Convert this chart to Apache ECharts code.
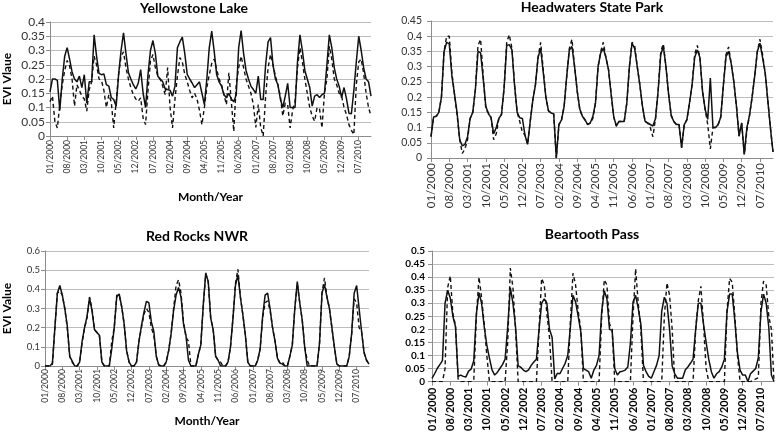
<!DOCTYPE html>
<html>
<head>
<meta charset="utf-8">
<script src="https://cdn.jsdelivr.net/npm/echarts@6/dist/echarts.min.js"></script>
<style>
  html, body { margin: 0; padding: 0; background: #fff; }
  #chart { width: 777px; height: 434px; }
</style>
</head>
<body>
<div id="chart"></div>
<script>
// monthly categories, 01/2000 .. 12/2010
const years = [2000, 2001, 2002, 2003, 2004, 2005, 2006, 2007, 2008, 2009, 2010];
const monthNames = ["01", "02", "03", "04", "05", "06", "07", "08", "09", "10", "11", "12"];
const months = [];
years.forEach((y) => monthNames.forEach((m) => months.push(m + "/" + y)));

// EVI values, one row per year
const yellowstoneSolid = [
  0.155, 0.2, 0.2, 0.195, 0.09, 0.2, 0.28, 0.31, 0.27, 0.225, 0.2, 0.19,
  0.21, 0.17, 0.215, 0.115, 0.19, 0.19, 0.355, 0.28, 0.22, 0.215, 0.218, 0.18,
  0.175, 0.135, 0.128, 0.104, 0.216, 0.3, 0.362, 0.29, 0.222, 0.2, 0.18, 0.165,
  0.185, 0.233, 0.15, 0.1, 0.216, 0.3, 0.335, 0.29, 0.21, 0.2, 0.19, 0.165,
  0.163, 0.16, 0.14, 0.175, 0.31, 0.33, 0.347, 0.29, 0.216, 0.2, 0.186, 0.17,
  0.18, 0.19, 0.15, 0.11, 0.2, 0.31, 0.368, 0.298, 0.216, 0.19, 0.175, 0.145,
  0.134, 0.15, 0.13, 0.12, 0.145, 0.31, 0.37, 0.29, 0.23, 0.2, 0.175, 0.163,
  0.15, 0.21, 0.128, 0.128, 0.25, 0.33, 0.345, 0.25, 0.2, 0.18, 0.13, 0.1,
  0.14, 0.185, 0.1, 0.1, 0.1, 0.26, 0.355, 0.3, 0.23, 0.2, 0.17, 0.105,
  0.14, 0.145, 0.135, 0.145, 0.15, 0.25, 0.355, 0.31, 0.24, 0.2, 0.175, 0.135,
  0.17, 0.13, 0.08, 0.078, 0.16, 0.26, 0.35, 0.3, 0.24, 0.2, 0.19, 0.14
];
const yellowstoneDashed = [
  0.12, 0.14, 0.05, 0.028, 0.11, 0.18, 0.23, 0.265, 0.245, 0.2, 0.105, 0.18,
  0.16, 0.14, 0.13, 0.087, 0.163, 0.19, 0.28, 0.25, 0.2, 0.195, 0.16, 0.1,
  0.145, 0.12, 0.028, 0.12, 0.216, 0.28, 0.295, 0.24, 0.2, 0.17, 0.145, 0.13,
  0.122, 0.134, 0.063, 0.04, 0.16, 0.263, 0.286, 0.24, 0.21, 0.198, 0.175, 0.145,
  0.24, 0.1, 0.028, 0.13, 0.21, 0.275, 0.26, 0.216, 0.19, 0.16, 0.134, 0.15,
  0.13, 0.09, 0.04, 0.1, 0.17, 0.215, 0.255, 0.27, 0.235, 0.2, 0.18, 0.145,
  0.11, 0.222, 0.12, 0.016, 0.18, 0.24, 0.28, 0.24, 0.2, 0.175, 0.15, 0.11,
  0.03, 0.11, 0.03, 0.0, 0.14, 0.24, 0.286, 0.25, 0.21, 0.18, 0.14, 0.07,
  0.115, 0.11, 0.028, 0.09, 0.122, 0.24, 0.31, 0.26, 0.2, 0.15, 0.1, 0.07,
  0.052, 0.1, 0.095, 0.028, 0.15, 0.2, 0.315, 0.27, 0.2, 0.18, 0.15, 0.14,
  0.1, 0.075, 0.04, 0.02, 0.005, 0.18, 0.26, 0.27, 0.22, 0.15, 0.1, 0.07
];
const headwatersSolid = [
  0.07, 0.135, 0.137, 0.15, 0.2, 0.35, 0.38, 0.375, 0.27, 0.21, 0.148, 0.06,
  0.04, 0.045, 0.07, 0.13, 0.15, 0.225, 0.35, 0.345, 0.26, 0.17, 0.145, 0.133,
  0.08, 0.1, 0.13, 0.143, 0.23, 0.37, 0.372, 0.355, 0.24, 0.15, 0.132, 0.13,
  0.075, 0.045, 0.12, 0.19, 0.24, 0.33, 0.36, 0.28, 0.2, 0.155, 0.148, 0.145,
  0.0, 0.11, 0.125, 0.17, 0.27, 0.355, 0.366, 0.3, 0.22, 0.16, 0.137, 0.125,
  0.11, 0.115, 0.137, 0.18, 0.3, 0.345, 0.36, 0.33, 0.29, 0.21, 0.135, 0.105,
  0.12, 0.12, 0.12, 0.18, 0.3, 0.377, 0.36, 0.3, 0.24, 0.17, 0.12, 0.115,
  0.11, 0.105, 0.13, 0.22, 0.34, 0.366, 0.3, 0.21, 0.14, 0.12, 0.11, 0.11,
  0.034, 0.11, 0.125, 0.18, 0.24, 0.33, 0.355, 0.33, 0.22, 0.16, 0.127, 0.263,
  0.1, 0.1, 0.11, 0.135, 0.24, 0.333, 0.35, 0.31, 0.25, 0.17, 0.072, 0.115,
  0.012, 0.1, 0.14, 0.2, 0.27, 0.35, 0.377, 0.33, 0.28, 0.19, 0.1, 0.02
];
const headwatersDashed = [
  0.07, 0.135, 0.137, 0.15, 0.2, 0.35, 0.4, 0.4, 0.28, 0.21, 0.14, 0.06,
  0.015, 0.03, 0.06, 0.13, 0.15, 0.225, 0.37, 0.39, 0.27, 0.16, 0.148, 0.133,
  0.06, 0.08, 0.13, 0.143, 0.23, 0.38, 0.405, 0.36, 0.24, 0.15, 0.12, 0.085,
  0.075, 0.045, 0.12, 0.19, 0.24, 0.33, 0.38, 0.29, 0.2, 0.155, 0.148, 0.145,
  0.0, 0.11, 0.125, 0.17, 0.27, 0.36, 0.39, 0.3, 0.22, 0.16, 0.137, 0.125,
  0.11, 0.115, 0.13, 0.18, 0.3, 0.35, 0.38, 0.33, 0.29, 0.21, 0.135, 0.105,
  0.12, 0.12, 0.12, 0.18, 0.3, 0.38, 0.37, 0.3, 0.24, 0.17, 0.12, 0.115,
  0.1, 0.07, 0.13, 0.22, 0.35, 0.375, 0.3, 0.21, 0.14, 0.12, 0.11, 0.11,
  0.034, 0.11, 0.125, 0.18, 0.24, 0.34, 0.37, 0.33, 0.22, 0.16, 0.11, 0.03,
  0.1, 0.1, 0.11, 0.135, 0.24, 0.34, 0.365, 0.31, 0.25, 0.17, 0.072, 0.115,
  0.012, 0.09, 0.14, 0.2, 0.27, 0.35, 0.39, 0.34, 0.28, 0.19, 0.1, 0.02
];
const redRocksSolid = [
  0, 0, 0, 0.015, 0.2, 0.38, 0.42, 0.37, 0.3, 0.21, 0.05, 0.025,
  0, 0, 0.02, 0.128, 0.2, 0.26, 0.355, 0.29, 0.19, 0.175, 0.16, 0.02,
  0, 0, 0, 0.09, 0.2, 0.36, 0.376, 0.31, 0.22, 0.08, 0.02, 0,
  0, 0.02, 0.13, 0.21, 0.28, 0.337, 0.33, 0.23, 0.18, 0.05, 0.005, 0,
  0, 0.02, 0.08, 0.17, 0.29, 0.37, 0.41, 0.36, 0.22, 0.16, 0.03, 0,
  0, 0, 0.06, 0.11, 0.32, 0.486, 0.44, 0.25, 0.19, 0.05, 0.03, 0,
  0, 0, 0.02, 0.1, 0.25, 0.42, 0.477, 0.36, 0.267, 0.163, 0.02, 0,
  0, 0, 0.03, 0.09, 0.26, 0.37, 0.38, 0.3, 0.2, 0.13, 0.04, 0.015,
  0.01, 0, 0, 0.05, 0.11, 0.3, 0.44, 0.33, 0.24, 0.1, 0, 0,
  0, 0, 0, 0.12, 0.38, 0.425, 0.36, 0.3, 0.2, 0.1, 0.01, 0,
  0, 0, 0, 0.05, 0.17, 0.38, 0.42, 0.3, 0.18, 0.07, 0.03, 0.01
];
const redRocksDashed = [
  0, 0, 0, 0.01, 0.2, 0.38, 0.39, 0.37, 0.3, 0.2, 0.05, 0.02,
  0, 0, 0.02, 0.12, 0.2, 0.25, 0.36, 0.3, 0.19, 0.175, 0.16, 0.02,
  0, 0, 0, 0.13, 0.2, 0.37, 0.37, 0.31, 0.22, 0.08, 0.02, 0,
  0, 0.02, 0.13, 0.2, 0.27, 0.3, 0.28, 0.2, 0.16, 0.05, 0.005, 0,
  0, 0.02, 0.08, 0.17, 0.3, 0.42, 0.45, 0.38, 0.23, 0.15, 0.13, 0,
  0, 0, 0.06, 0.11, 0.32, 0.48, 0.44, 0.25, 0.19, 0.05, 0.03, 0.02,
  0, 0, 0.02, 0.1, 0.25, 0.43, 0.505, 0.36, 0.267, 0.163, 0.02, 0,
  0, 0, 0.03, 0.09, 0.25, 0.33, 0.34, 0.29, 0.2, 0.13, 0.04, 0.015,
  0.02, 0, 0, 0.05, 0.11, 0.3, 0.43, 0.33, 0.24, 0.1, 0.03, 0,
  0, 0, 0, 0.12, 0.38, 0.46, 0.36, 0.3, 0.2, 0.1, 0.01, 0,
  0, 0, 0, 0.05, 0.17, 0.35, 0.33, 0.2, 0.18, 0.07, 0.03, 0.01
];
const beartoothSolid = [
  0.012, 0.03, 0.05, 0.065, 0.08, 0.3, 0.35, 0.32, 0.25, 0.21, 0.02, 0.025,
  0.02, 0.018, 0.04, 0.048, 0.08, 0.26, 0.34, 0.3, 0.21, 0.14, 0.09, 0.045,
  0.025, 0.035, 0.05, 0.065, 0.086, 0.21, 0.36, 0.3, 0.21, 0.06, 0.055, 0.044,
  0.038, 0.045, 0.062, 0.075, 0.086, 0.2, 0.3, 0.317, 0.3, 0.2, 0.17, 0.01,
  0.032, 0.03, 0.05, 0.07, 0.1, 0.208, 0.33, 0.305, 0.25, 0.19, 0.05, 0.044,
  0.038, 0.013, 0.044, 0.062, 0.1, 0.27, 0.347, 0.317, 0.2, 0.196, 0.05, 0.025,
  0.038, 0.04, 0.044, 0.056, 0.147, 0.305, 0.33, 0.28, 0.22, 0.062, 0.038, 0.02,
  0.013, 0.038, 0.062, 0.1, 0.27, 0.323, 0.3, 0.2, 0.06, 0.03, 0.013, 0.013,
  0.013, 0.044, 0.056, 0.07, 0.086, 0.2, 0.3, 0.3, 0.22, 0.15, 0.086, 0.038,
  0.013, 0.03, 0.038, 0.056, 0.086, 0.268, 0.335, 0.335, 0.232, 0.11, 0.044, 0.025,
  0.025, 0.0, 0.03, 0.04, 0.05, 0.092, 0.268, 0.335, 0.3, 0.208, 0.025, 0.0
];
const beartoothDashed = [
  0, 0, 0, 0, 0, 0.05, 0.36, 0.405, 0.26, 0.215, 0.01, 0,
  0, 0, 0, 0, 0.005, 0.25, 0.4, 0.32, 0.22, 0.1, 0, 0,
  0, 0, 0, 0, 0, 0.15, 0.435, 0.36, 0.2, 0, 0, 0,
  0, 0, 0, 0, 0, 0.2, 0.395, 0.37, 0.26, 0.17, 0, 0,
  0, 0, 0, 0, 0, 0.23, 0.415, 0.37, 0.27, 0.2, 0, 0,
  0, 0, 0, 0, 0, 0.25, 0.39, 0.37, 0.22, 0.2, 0, 0,
  0, 0, 0, 0, 0, 0.25, 0.432, 0.3, 0.2, 0, 0, 0,
  0, 0, 0, 0, 0, 0.25, 0.378, 0.33, 0.2, 0, 0, 0,
  0, 0, 0, 0, 0, 0.2, 0.31, 0.365, 0.22, 0.05, 0, 0,
  0, 0, 0, 0, 0, 0.27, 0.395, 0.38, 0.25, 0.1, 0, 0,
  0, 0, 0, 0.005, 0.01, 0.015, 0.3, 0.385, 0.37, 0.25, 0.2, 0
];

const FONT = "Lato, 'Open Sans', sans-serif";

// one entry per small chart
const panels = [
  {
    title: "Yellowstone Lake", titleX: 194, titleY: 1,
    grid: { left: 50, top: 22, width: 321, height: 114 },
    yMax: 0.4, yStep: 0.05, yLabelSize: 12, xLabelSize: 8.5, bold: false,
    yName: "EVI Vlaue", yNameGap: 37, xName: "Month/Year", xNameGap: 55,
    yMargin: 5, xMargin: 4, solid: yellowstoneSolid, dashed: yellowstoneDashed,
  },
  {
    title: "Headwaters State Park", titleX: 592, titleY: 0,
    grid: { left: 431, top: 21, width: 342, height: 137 },
    yMax: 0.45, yStep: 0.05, yLabelSize: 10.5, xLabelSize: 11.5, bold: false,
    yName: "", yNameGap: 0, xName: "", xNameGap: 0,
    yMargin: 9, xMargin: 5, solid: headwatersSolid, dashed: headwatersDashed,
  },
  {
    title: "Red Rocks NWR", titleX: 197, titleY: 229,
    grid: { left: 45, top: 251, width: 324, height: 115 },
    yMax: 0.6, yStep: 0.1, yLabelSize: 9.5, xLabelSize: 8.6, bold: false,
    yName: "EVI Value", yNameGap: 32, xName: "Month/Year", xNameGap: 49,
    yMargin: 5, xMargin: 3, solid: redRocksSolid, dashed: redRocksDashed,
  },
  {
    title: "Beartooth Pass", titleX: 592, titleY: 227,
    grid: { left: 432, top: 251, width: 342, height: 137 },
    yMax: 0.5, yStep: 0.05, yLabelSize: 10, xLabelSize: 11, bold: true,
    yName: "", yNameGap: 0, xName: "", xNameGap: 0,
    yMargin: 7, xMargin: 6, solid: beartoothSolid, dashed: beartoothDashed,
  },
];

const axisColor = "#8c8c8c";

const option = {
  animation: false,
  backgroundColor: "#fff",
  title: panels.map((p) => ({
    text: p.title,
    left: p.titleX,
    top: p.titleY,
    textAlign: "center",
    padding: 0,
    textStyle: { fontFamily: FONT, fontSize: 14, fontWeight: "bold", color: "#000" },
  })),
  grid: panels.map((p) => Object.assign({ containLabel: false }, p.grid)),
  xAxis: panels.map((p, i) => ({
    type: "category",
    gridIndex: i,
    data: months,
    boundaryGap: false,
    name: p.xName,
    nameLocation: "middle",
    nameGap: p.xNameGap,
    nameTextStyle: { fontFamily: FONT, fontSize: 12, fontWeight: "bold", color: "#000" },
    axisLine: { lineStyle: { color: axisColor, width: 1 } },
    axisTick: { show: true, interval: 6, length: 4, lineStyle: { color: axisColor } },
    axisLabel: {
      interval: 6,
      rotate: 90,
      margin: p.xMargin,
      fontFamily: FONT,
      fontSize: p.xLabelSize,
      fontWeight: p.bold ? "bold" : "normal",
      color: p.bold ? "#000" : "#333",
    },
    splitLine: { show: false },
  })),
  yAxis: panels.map((p, i) => ({
    type: "value",
    gridIndex: i,
    min: 0,
    max: p.yMax,
    interval: p.yStep,
    name: p.yName,
    nameLocation: "middle",
    nameGap: p.yNameGap,
    nameTextStyle: { fontFamily: FONT, fontSize: 12, fontWeight: "bold", color: "#000" },
    axisLine: { show: true, lineStyle: { color: axisColor, width: 1 } },
    axisTick: { show: true, length: 4, lineStyle: { color: axisColor } },
    axisLabel: {
      margin: p.yMargin,
      fontFamily: FONT,
      fontSize: p.yLabelSize,
      fontWeight: p.bold ? "bold" : "normal",
      color: p.bold ? "#000" : "#333",
    },
    splitLine: { show: true, lineStyle: { color: "#bdbdbd", width: 1 } },
  })),
  series: panels.flatMap((p, i) => [
    {
      type: "line",
      xAxisIndex: i,
      yAxisIndex: i,
      data: p.dashed,
      symbol: "none",
      lineStyle: { color: "#111", width: 1.4, type: [4, 3] },
    },
    {
      type: "line",
      xAxisIndex: i,
      yAxisIndex: i,
      data: p.solid,
      symbol: "none",
      lineStyle: { color: "#111", width: 1.5, type: "solid" },
    },
  ]),
};

const chart = echarts.init(document.getElementById("chart"));
chart.setOption(option);
</script>
</body>
</html>
